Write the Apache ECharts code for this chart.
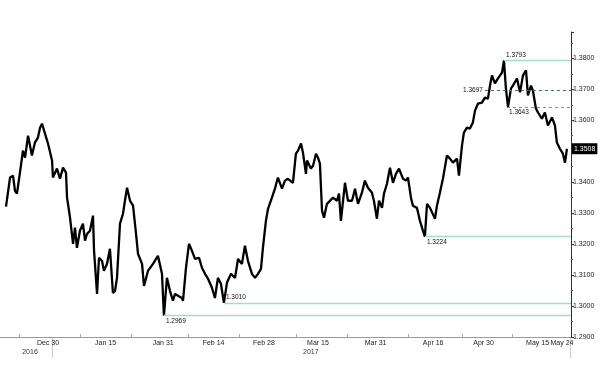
<!DOCTYPE html>
<html><head><meta charset="utf-8">
<script src="https://cdn.jsdelivr.net/npm/echarts@6/dist/echarts.min.js"></script>
<style>html,body{margin:0;padding:0;background:#fff}#c{width:600px;height:365px}</style>
</head><body><div id="c"></div>
<script>
const dates = [
'2016-12-18 08:00','2016-12-19 11:00','2016-12-20 07:00','2016-12-20 20:00','2016-12-21 09:00','2016-12-22 05:00','2016-12-23 01:00','2016-12-23 15:00','2016-12-24 11:00','2016-12-25 13:00',
'2016-12-26 09:00','2016-12-27 05:00','2016-12-27 19:00','2016-12-28 08:00','2016-12-29 04:00','2016-12-30 00:00','2016-12-31 03:00','2016-12-31 09:00','2017-01-01 12:00','2017-01-02 08:00',
'2017-01-03 04:00','2017-01-04 00:00','2017-01-04 07:00','2017-01-05 03:00','2017-01-05 23:00','2017-01-06 12:00','2017-01-07 01:00','2017-01-07 21:00','2017-01-08 17:00','2017-01-09 07:00',
'2017-01-09 20:00','2017-01-10 16:00','2017-01-11 12:00','2017-01-11 19:00','2017-01-12 15:00','2017-01-13 04:00','2017-01-14 00:00','2017-01-14 13:00','2017-01-15 09:00','2017-01-16 05:00',
'2017-01-17 01:00','2017-01-17 15:00','2017-01-18 04:00','2017-01-19 00:00','2017-01-19 20:00','2017-01-20 09:00','2017-01-20 23:00','2017-01-21 19:00','2017-01-22 15:00','2017-01-23 11:00',
'2017-01-24 00:00','2017-01-25 03:00','2017-01-25 16:00','2017-01-26 05:00','2017-01-26 19:00','2017-01-28 04:00','2017-01-29 13:00','2017-01-30 16:00','2017-01-31 05:00','2017-02-01 01:00',
'2017-02-01 21:00','2017-02-02 17:00','2017-02-03 07:00','2017-02-04 03:00','2017-02-05 05:00','2017-02-05 12:00','2017-02-06 08:00','2017-02-07 04:00','2017-02-08 00:00','2017-02-08 20:00',
'2017-02-09 23:00','2017-02-10 19:00','2017-02-11 15:00','2017-02-12 11:00','2017-02-13 13:00','2017-02-14 09:00','2017-02-15 05:00','2017-02-16 01:00','2017-02-16 21:00','2017-02-17 17:00',
'2017-02-18 20:00','2017-02-19 23:00','2017-02-20 19:00','2017-02-21 21:00','2017-02-22 17:00','2017-02-23 13:00','2017-02-24 16:00','2017-02-25 12:00','2017-02-26 08:00','2017-02-27 04:00',
'2017-02-27 17:00','2017-02-28 13:00','2017-03-01 03:00','2017-03-02 05:00','2017-03-03 01:00','2017-03-03 21:00','2017-03-05 00:00','2017-03-05 20:00','2017-03-06 16:00','2017-03-08 01:00',
'2017-03-08 21:00','2017-03-09 11:00','2017-03-10 07:00','2017-03-10 20:00','2017-03-11 16:00','2017-03-11 23:00','2017-03-13 01:00','2017-03-13 15:00','2017-03-14 11:00','2017-03-15 00:00',
'2017-03-15 13:00','2017-03-16 03:00','2017-03-16 16:00','2017-03-17 12:00','2017-03-18 08:00','2017-03-19 04:00','2017-03-20 07:00','2017-03-20 20:00','2017-03-21 09:00','2017-03-22 12:00',
'2017-03-23 08:00','2017-03-24 11:00','2017-03-25 07:00','2017-03-26 03:00','2017-03-27 05:00','2017-03-28 01:00','2017-03-28 21:00','2017-03-30 00:00','2017-03-30 13:00','2017-03-31 09:00',
'2017-03-31 23:00','2017-04-01 19:00','2017-04-02 08:00','2017-04-03 04:00','2017-04-04 00:00','2017-04-04 20:00','2017-04-05 16:00','2017-04-06 12:00','2017-04-07 15:00','2017-04-08 11:00',
'2017-04-09 00:00','2017-04-09 20:00','2017-04-10 09:00','2017-04-11 12:00','2017-04-12 08:00','2017-04-13 04:00','2017-04-13 17:00','2017-04-14 07:00','2017-04-15 03:00','2017-04-15 16:00',
'2017-04-16 12:00','2017-04-17 01:00','2017-04-17 21:00','2017-04-18 17:00','2017-04-19 20:00','2017-04-20 16:00','2017-04-21 12:00','2017-04-22 15:00','2017-04-23 04:00','2017-04-24 00:00',
'2017-04-24 13:00','2017-04-25 09:00','2017-04-26 05:00','2017-04-27 01:00','2017-04-27 15:00','2017-04-28 11:00','2017-04-29 13:00','2017-04-30 09:00','2017-05-01 05:00','2017-05-01 19:00',
'2017-05-02 08:00','2017-05-03 04:00','2017-05-04 00:00','2017-05-05 03:00','2017-05-05 16:00','2017-05-06 05:00','2017-05-06 19:00','2017-05-07 15:00','2017-05-08 04:00','2017-05-09 07:00',
'2017-05-10 03:00','2017-05-10 23:00','2017-05-11 19:00','2017-05-12 08:00','2017-05-13 04:00','2017-05-13 17:00','2017-05-14 13:00','2017-05-15 03:00','2017-05-16 05:00','2017-05-17 01:00',
'2017-05-17 21:00','2017-05-19 00:00','2017-05-19 20:00','2017-05-20 09:00','2017-05-21 05:00','2017-05-22 01:00','2017-05-22 15:00','2017-05-23 04:00'
];
const values = [
1.3321,1.3415,1.3421,1.3372,1.3363,1.3431,1.3502,1.3479,1.3550,1.3486,
1.3528,1.3544,1.3576,1.3589,1.3557,1.3525,1.3470,1.3415,1.3444,1.3411,
1.3447,1.3431,1.3350,1.3285,1.3201,1.3253,1.3188,1.3243,1.3266,1.3211,
1.3233,1.3243,1.3292,1.3178,1.3039,1.3156,1.3146,1.3114,1.3136,1.3185,
1.3042,1.3049,1.3091,1.3266,1.3298,1.3340,1.3382,1.3340,1.3324,1.3233,
1.3169,1.3136,1.3065,1.3088,1.3114,1.3136,1.3162,1.3104,1.2969,1.3091,
1.3049,1.3017,1.3039,1.3033,1.3026,1.3017,1.3123,1.3201,1.3178,1.3152,
1.3156,1.3123,1.3104,1.3088,1.3059,1.3026,1.3091,1.3072,1.3010,1.3075,
1.3104,1.3091,1.3152,1.3136,1.3195,1.3146,1.3104,1.3091,1.3104,1.3120,
1.3188,1.3275,1.3314,1.3350,1.3379,1.3415,1.3379,1.3405,1.3411,1.3398,
1.3492,1.3502,1.3525,1.3495,1.3427,1.3470,1.3444,1.3453,1.3492,1.3479,
1.3460,1.3308,1.3285,1.3330,1.3340,1.3350,1.3340,1.3363,1.3275,1.3398,
1.3340,1.3340,1.3379,1.3330,1.3366,1.3405,1.3382,1.3366,1.3340,1.3282,
1.3340,1.3317,1.3363,1.3395,1.3447,1.3398,1.3427,1.3444,1.3411,1.3405,
1.3415,1.3350,1.3324,1.3317,1.3275,1.3243,1.3224,1.3330,1.3317,1.3314,
1.3282,1.3324,1.3366,1.3411,1.3486,1.3476,1.3463,1.3476,1.3421,1.3518,
1.3560,1.3576,1.3573,1.3593,1.3631,1.3654,1.3657,1.3673,1.3670,1.3712,
1.3745,1.3719,1.3735,1.3754,1.3793,1.3703,1.3643,1.3703,1.3712,1.3735,
1.3690,1.3745,1.3761,1.3680,1.3712,1.3696,1.3638,1.3625,1.3605,1.3625,
1.3583,1.3609,1.3583,1.3528,1.3508,1.3492,1.3463,1.3508
];
const xLabelDates = ['2016-12-30','2017-01-15','2017-01-31','2017-02-14','2017-02-28','2017-03-15','2017-03-31','2017-04-16','2017-04-30','2017-05-15','2017-05-24'];
const xLabelTexts = ['Dec 30','Jan 15','Jan 31','Feb 14','Feb 28','Mar 15','Mar 31','Apr 16','Apr 30','May 15','May 24'];
const xTickDates = ['2016-12-22','2017-01-08','2017-01-22','2017-02-07','2017-02-21','2017-03-09','2017-03-23','2017-04-09','2017-04-24','2017-05-08'];
const yearLabels = ['2016','2017'];
const yearLabelDates = ['2016-12-25','2017-03-13'];
const yearSepDates = ['2016-12-31','2017-05-24'];
const levelValues = [1.3793,1.3697,1.3643,1.3224,1.3010,1.2969];
const levelStartDates = ['2017-05-05 16:00','2017-04-30 09:00','2017-05-06 12:00','2017-04-13 17:00','2017-02-16 21:00','2017-01-31 05:00'];
const xMin = '2016-12-16 16:00', xMax = '2017-05-24 07:00';
const lastValue = 1.3508;

function toTs(s){ return new Date(s.length === 10 ? s + 'T00:00:00' : s.replace(' ', 'T') + ':00').getTime(); }

const labelTs = xLabelDates.map(toTs);
const labelMap = {}; labelTs.forEach((t,i)=>{ labelMap[t] = xLabelTexts[i]; });
const lastLabelTs = labelTs[labelTs.length - 1];

const mint = '#a6dcc6';
const levelStyles = [
  {line:{color:mint,width:1.3,type:'solid'}, pos:'insideStartTop'},
  {line:{color:'#4e6e60',width:1,type:[3,3]}, pos:'start'},
  {line:{color:'#36b47a',width:1,type:[3,3]}, pos:'insideStartBottom'},
  {line:{color:mint,width:1.3,type:'solid'}, pos:'insideStartBottom'},
  {line:{color:mint,width:1.3,type:'solid'}, pos:'insideStartTop'},
  {line:{color:mint,width:1.3,type:'solid'}, pos:'insideStartBottom'}
];

const chart = echarts.init(document.getElementById('c'), null, {renderer:'canvas'});
const font = 'Liberation Sans';
chart.setOption({
  animation:false,
  backgroundColor:'#fff',
  grid:{left:0, right:29, top:32, bottom:28},
  xAxis:{
    type:'value', min:toTs(xMin), max:toTs(xMax),
    axisLine:{lineStyle:{color:'#999',width:1}},
    axisTick:{show:true, customValues:xTickDates.map(toTs), inside:true, length:3, lineStyle:{color:'#aaa'}},
    axisLabel:{customValues:labelTs,
      formatter:v=> v === lastLabelTs ? '{e|' + labelMap[v] + '}' : (labelMap[v]||''),
      rich:{e:{fontSize:7, color:'#222', fontFamily:font, padding:[0,16,0,0]}},
      fontSize:7, color:'#222', margin:3, fontFamily:font, hideOverlap:false},
    splitLine:{show:false}
  },
  yAxis:{
    type:'value', position:'right', min:1.29, max:1.3885, interval:0.01,
    axisLine:{show:true, lineStyle:{color:'#333',width:1}},
    axisTick:{show:true, length:3, lineStyle:{color:'#333'}},
    minorTick:{show:true, splitNumber:2, length:2, lineStyle:{color:'#555'}},
    axisLabel:{formatter:v=>v.toFixed(4), fontSize:7, color:'#222', margin:2, fontFamily:font, showMaxLabel:false},
    splitLine:{show:false}
  },
  series:[{
    type:'line', showSymbol:false, symbol:'none',
    data:dates.map((d,i)=>[toTs(d), values[i]]),
    lineStyle:{color:'#000', width:2.3, join:'bevel'},
    endLabel:{show:true, formatter:lastValue.toFixed(4), backgroundColor:'#000', color:'#fff', fontSize:7, fontFamily:font, padding:[2,2,2,2], distance:5},
    markLine:{
      symbol:'none', silent:true, animation:false,
      data: levelValues.map((v,i)=>[
        {coord:[toTs(levelStartDates[i]), v], lineStyle:levelStyles[i].line,
         label:{show:true, formatter:v.toFixed(4), position:levelStyles[i].pos, fontSize:6.5, color:'#111', fontFamily:font, distance:2}},
        {coord:[toTs(xMax), v]}
      ])
    }
  }]
});

const graphics = [];
yearLabels.forEach((t,i)=>{
  const x = chart.convertToPixel({xAxisIndex:0}, toTs(yearLabelDates[i]));
  graphics.push({type:'text', x:x, y:352, style:{text:t, fill:'#333', font:'7px "Liberation Sans"', align:'center', verticalAlign:'middle'}});
});
yearSepDates.forEach(d=>{
  const x = Math.round(chart.convertToPixel({xAxisIndex:0}, toTs(d))) + 0.5;
  graphics.push({type:'line', shape:{x1:x, y1:338, x2:x, y2:358}, style:{stroke:'#ccc', lineWidth:1}});
});
chart.setOption({graphic:graphics});
</script></body></html>
